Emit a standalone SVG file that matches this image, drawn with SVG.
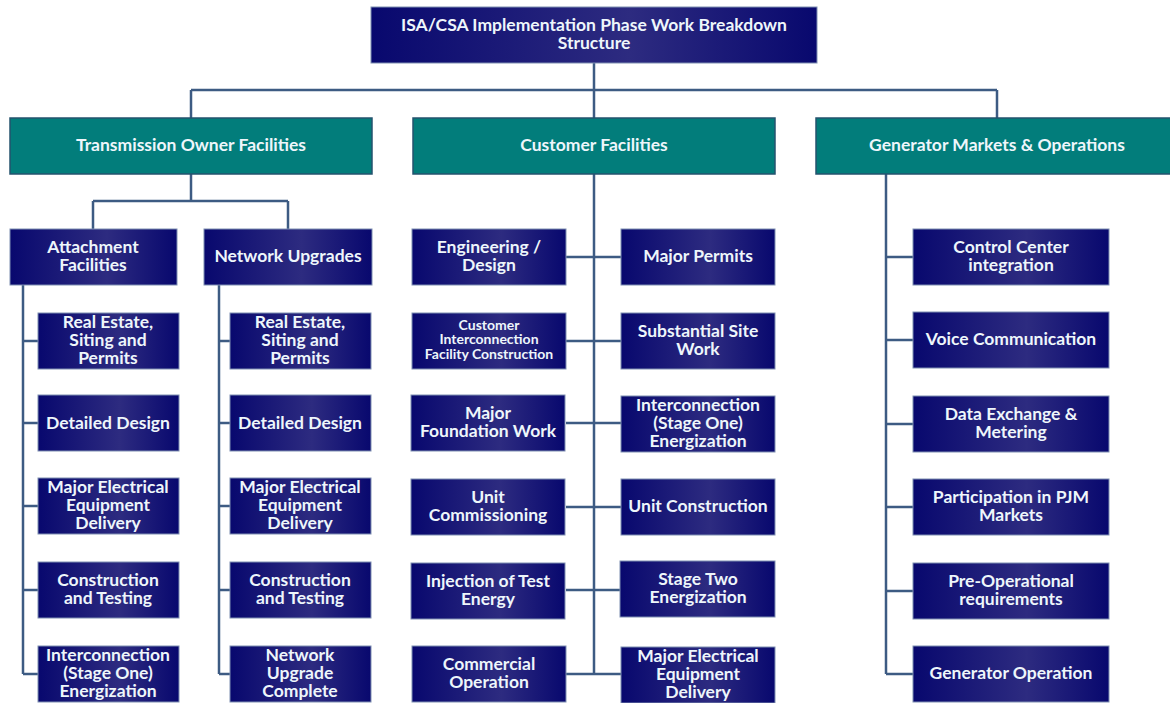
<svg xmlns="http://www.w3.org/2000/svg" width="1170" height="703" viewBox="0 0 1170 703">
<defs>
<linearGradient id="navy" x1="0" y1="0" x2="1" y2="0">
<stop offset="0" stop-color="#08086E"/>
<stop offset="0.58" stop-color="#2D2B80"/>
<stop offset="1" stop-color="#08086E"/>
</linearGradient>
</defs>
<style>
.n rect{fill:url(#navy);stroke:#7F8FB2;stroke-width:1}
.t rect{fill:#027D7B;stroke:#24536E;stroke-width:1.5}
text{font-family:Lato,"Open Sans","Liberation Sans",sans-serif;font-weight:700;font-size:17.5px;fill:#EEF6FB;text-anchor:middle}
.s{font-size:14px}
#connectors path{fill:none;stroke:#3D5B83;stroke-width:2.5}
</style>
<rect width="1170" height="703" fill="#FFFFFF"/>
<g id="connectors">
<path d="M594 63V118M191 90H997M191 90V118M997 90V118"/>
<path d="M191 174V201M93 201H288M93 201V229M288 201V229"/>
<path d="M23 285V674M23 341H38M23 423H38M23 506H38M23 590H38M23 674H38"/>
<path d="M219 285V674M219 341H230M219 423H230M219 506H230M219 590H230M219 674H230"/>
<path d="M594 174V674M566 257H621M566 341H621M566 423H621M566 507H621M566 590H621M566 674H621"/>
<path d="M886 174V674M886 257H913M886 340H913M886 424H913M886 507H913M886 591H913M886 674H913"/>
</g>
<g id="root" class="n"><rect x="371" y="7" width="446" height="56"/><text x="594" y="31">ISA/CSA Implementation Phase Work Breakdown</text><text x="594" y="49">Structure</text></g>
<g id="tof" class="t"><rect x="10" y="118" width="362" height="56"/><text x="191" y="151">Transmission Owner Facilities</text></g>
<g id="cf" class="t"><rect x="413" y="118" width="362" height="56"/><text x="594" y="151">Customer Facilities</text></g>
<g id="gmo" class="t"><rect x="816" y="118" width="362" height="56"/><text x="997" y="151">Generator Markets &amp; Operations</text></g>

<g id="attach" class="n"><rect x="10" y="229" width="167" height="56"/><text x="93" y="253">Attachment</text><text x="93" y="271">Facilities</text></g>
<g id="netup" class="n"><rect x="204" y="229" width="168" height="56"/><text x="288" y="262">Network Upgrades</text></g>

<g id="af1" class="n"><rect x="38" y="313" width="141" height="56"/><text x="108" y="328">Real Estate,</text><text x="108" y="346">Siting and</text><text x="108" y="364">Permits</text></g>
<g id="af2" class="n"><rect x="38" y="395" width="141" height="56"/><text x="108" y="429">Detailed Design</text></g>
<g id="af3" class="n"><rect x="38" y="478" width="141" height="56"/><text x="108" y="493">Major Electrical</text><text x="108" y="511">Equipment</text><text x="108" y="529">Delivery</text></g>
<g id="af4" class="n"><rect x="38" y="562" width="141" height="56"/><text x="108" y="586">Construction</text><text x="108" y="604">and Testing</text></g>
<g id="af5" class="n"><rect x="38" y="646" width="141" height="56"/><text x="108" y="661">Interconnection</text><text x="108" y="679">(Stage One)</text><text x="108" y="697">Energization</text></g>

<g id="nu1" class="n"><rect x="230" y="313" width="141" height="56"/><text x="300" y="328">Real Estate,</text><text x="300" y="346">Siting and</text><text x="300" y="364">Permits</text></g>
<g id="nu2" class="n"><rect x="230" y="395" width="141" height="56"/><text x="300" y="429">Detailed Design</text></g>
<g id="nu3" class="n"><rect x="230" y="478" width="141" height="56"/><text x="300" y="493">Major Electrical</text><text x="300" y="511">Equipment</text><text x="300" y="529">Delivery</text></g>
<g id="nu4" class="n"><rect x="230" y="562" width="141" height="56"/><text x="300" y="586">Construction</text><text x="300" y="604">and Testing</text></g>
<g id="nu5" class="n"><rect x="230" y="646" width="141" height="56"/><text x="300" y="661">Network</text><text x="300" y="679">Upgrade</text><text x="300" y="697">Complete</text></g>

<g id="cf1" class="n"><rect x="412" y="229" width="154" height="56"/><text x="489" y="253">Engineering /</text><text x="489" y="271">Design</text></g>
<g id="cf2" class="n"><rect x="621" y="229" width="154" height="56"/><text x="698" y="262">Major Permits</text></g>
<g id="cf3" class="n"><rect x="412" y="313" width="154" height="56"/><text class="s" x="489" y="329.5">Customer</text><text class="s" x="489" y="344">Interconnection</text><text class="s" x="489" y="358.5">Facility Construction</text></g>
<g id="cf4" class="n"><rect x="621" y="313" width="154" height="56"/><text x="698" y="337">Substantial Site</text><text x="698" y="355">Work</text></g>
<g id="cf5" class="n"><rect x="411" y="395" width="154" height="56"/><text x="488" y="419">Major</text><text x="488" y="437">Foundation Work</text></g>
<g id="cf6" class="n"><rect x="621" y="396" width="154" height="56"/><text x="698" y="411">Interconnection</text><text x="698" y="429">(Stage One)</text><text x="698" y="447">Energization</text></g>
<g id="cf7" class="n"><rect x="411" y="479" width="154" height="56"/><text x="488" y="503">Unit</text><text x="488" y="521">Commissioning</text></g>
<g id="cf8" class="n"><rect x="621" y="479" width="154" height="56"/><text x="698" y="512">Unit Construction</text></g>
<g id="cf9" class="n"><rect x="411" y="563" width="154" height="56"/><text x="488" y="587">Injection of Test</text><text x="488" y="605">Energy</text></g>
<g id="cf10" class="n"><rect x="620" y="561" width="155" height="56"/><text x="698" y="585">Stage Two</text><text x="698" y="603">Energization</text></g>
<g id="cf11" class="n"><rect x="412" y="646" width="154" height="56"/><text x="489" y="670">Commercial</text><text x="489" y="688">Operation</text></g>
<g id="cf12" class="n"><rect x="621" y="647" width="154" height="56"/><text x="698" y="662">Major Electrical</text><text x="698" y="680">Equipment</text><text x="698" y="698">Delivery</text></g>

<g id="g1" class="n"><rect x="913" y="229" width="196" height="56"/><text x="1011" y="253">Control Center</text><text x="1011" y="271">integration</text></g>
<g id="g2" class="n"><rect x="913" y="312" width="196" height="56"/><text x="1011" y="345">Voice Communication</text></g>
<g id="g3" class="n"><rect x="913" y="396" width="196" height="56"/><text x="1011" y="420">Data Exchange &amp;</text><text x="1011" y="438">Metering</text></g>
<g id="g4" class="n"><rect x="913" y="479" width="196" height="56"/><text x="1011" y="503">Participation in PJM</text><text x="1011" y="521">Markets</text></g>
<g id="g5" class="n"><rect x="913" y="563" width="196" height="56"/><text x="1011" y="587">Pre-Operational</text><text x="1011" y="605">requirements</text></g>
<g id="g6" class="n"><rect x="913" y="646" width="196" height="56"/><text x="1011" y="679">Generator Operation</text></g>
</svg>
